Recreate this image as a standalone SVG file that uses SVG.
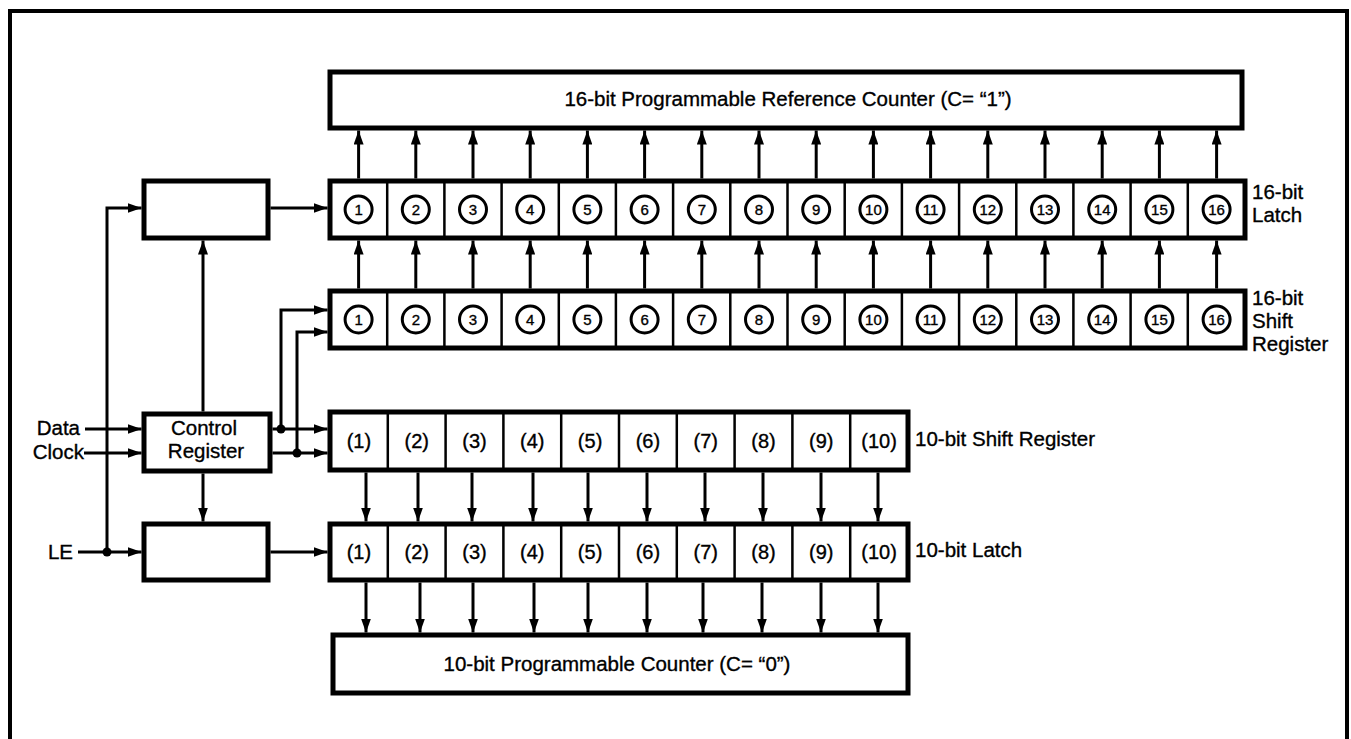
<svg xmlns="http://www.w3.org/2000/svg" width="1351" height="739" viewBox="0 0 1351 739">
<defs>
<style>
text{font-family:"Liberation Sans",Arial,sans-serif;fill:#000;stroke:#000;stroke-width:0.35}
.box{fill:#fff;stroke:#000;stroke-width:5}
.div{stroke:#000;stroke-width:2.5}
.ln{fill:none;stroke:#000;stroke-width:3}
.arr{fill:none;stroke:#000;stroke-width:3;marker-end:url(#ah)}
.cir{fill:#fff;stroke:#000;stroke-width:3}
.cn{font-size:15px;text-anchor:middle}
.pn{font-size:20px;text-anchor:middle}
.lbl{font-size:20.5px}
.mid{text-anchor:middle}
.end{text-anchor:end}
</style>
<marker id="ah" viewBox="0 0 14 10" refX="14" refY="5" markerWidth="14" markerHeight="10" markerUnits="userSpaceOnUse" orient="auto"><path d="M0,0 L14,5 L0,10 z" fill="#000"/></marker>
</defs>
<rect width="1351" height="739" fill="#fff"/>
<path d="M10,745 V11 H1347 V745" fill="none" stroke="#000" stroke-width="4"/>

<g id="connectors">
<path class="arr" d="M358.6,178.5 V130.5"/>
<path class="arr" d="M415.8,178.5 V130.5"/>
<path class="arr" d="M473,178.5 V130.5"/>
<path class="arr" d="M530.2,178.5 V130.5"/>
<path class="arr" d="M587.4,178.5 V130.5"/>
<path class="arr" d="M644.6,178.5 V130.5"/>
<path class="arr" d="M701.8,178.5 V130.5"/>
<path class="arr" d="M759,178.5 V130.5"/>
<path class="arr" d="M816.2,178.5 V130.5"/>
<path class="arr" d="M873.4,178.5 V130.5"/>
<path class="arr" d="M930.6,178.5 V130.5"/>
<path class="arr" d="M987.8,178.5 V130.5"/>
<path class="arr" d="M1045,178.5 V130.5"/>
<path class="arr" d="M1102.2,178.5 V130.5"/>
<path class="arr" d="M1159.4,178.5 V130.5"/>
<path class="arr" d="M1216.6,178.5 V130.5"/>
<path class="arr" d="M358.6,288.5 V240.5"/>
<path class="arr" d="M415.8,288.5 V240.5"/>
<path class="arr" d="M473,288.5 V240.5"/>
<path class="arr" d="M530.2,288.5 V240.5"/>
<path class="arr" d="M587.4,288.5 V240.5"/>
<path class="arr" d="M644.6,288.5 V240.5"/>
<path class="arr" d="M701.8,288.5 V240.5"/>
<path class="arr" d="M759,288.5 V240.5"/>
<path class="arr" d="M816.2,288.5 V240.5"/>
<path class="arr" d="M873.4,288.5 V240.5"/>
<path class="arr" d="M930.6,288.5 V240.5"/>
<path class="arr" d="M987.8,288.5 V240.5"/>
<path class="arr" d="M1045,288.5 V240.5"/>
<path class="arr" d="M1102.2,288.5 V240.5"/>
<path class="arr" d="M1159.4,288.5 V240.5"/>
<path class="arr" d="M1216.6,288.5 V240.5"/>
<path class="arr" d="M366,472.5 V521.5"/>
<path class="arr" d="M418,472.5 V521.5"/>
<path class="arr" d="M472,472.5 V521.5"/>
<path class="arr" d="M533,472.5 V521.5"/>
<path class="arr" d="M588,472.5 V521.5"/>
<path class="arr" d="M647,472.5 V521.5"/>
<path class="arr" d="M705,472.5 V521.5"/>
<path class="arr" d="M763,472.5 V521.5"/>
<path class="arr" d="M821,472.5 V521.5"/>
<path class="arr" d="M878,472.5 V521.5"/>
<path class="arr" d="M366,582.5 V632.5"/>
<path class="arr" d="M420,582.5 V632.5"/>
<path class="arr" d="M473,582.5 V632.5"/>
<path class="arr" d="M534,582.5 V632.5"/>
<path class="arr" d="M588,582.5 V632.5"/>
<path class="arr" d="M647,582.5 V632.5"/>
<path class="arr" d="M703,582.5 V632.5"/>
<path class="arr" d="M762,582.5 V632.5"/>
<path class="arr" d="M821,582.5 V632.5"/>
<path class="arr" d="M878,582.5 V632.5"/>
<path class="arr" d="M85,429 H141.5"/>
<path class="arr" d="M84,453 H141.5"/>
<path class="arr" d="M78,552 H141.5"/>
<path class="arr" d="M107,552 V208 H141.5"/>
<circle cx="107" cy="552" r="4.5" fill="#000"/>
<path class="arr" d="M270.5,208 H327.5"/>
<path class="arr" d="M270.5,552 H327.5"/>
<path class="arr" d="M203,411.5 V240.5"/>
<path class="arr" d="M203,473.5 V521.5"/>
<path class="arr" d="M272.5,429 H327.5"/>
<path class="arr" d="M272.5,453 H327.5"/>
<path class="arr" d="M281,429 V310 H327.5"/>
<path class="arr" d="M297,453 V332 H327.5"/>
<circle cx="281" cy="429" r="4.5" fill="#000"/>
<circle cx="297" cy="453" r="4.5" fill="#000"/>
</g>

<g id="ref-counter">
<rect class="box" x="330" y="72" width="912" height="56"/>
<text class="lbl mid" x="788" y="106">16-bit Programmable Reference Counter (C= “1”)</text>
</g>

<g id="latch16">
<rect class="box" x="330" y="181" width="915" height="57"/>
<path class="div" d="M387.2,181V238M444.4,181V238M501.6,181V238M558.8,181V238M615.9,181V238M673.1,181V238M730.3,181V238M787.5,181V238M844.7,181V238M901.9,181V238M959.1,181V238M1016.3,181V238M1073.4,181V238M1130.6,181V238M1187.8,181V238"/>
<circle class="cir" cx="358.6" cy="209.5" r="13.5"/><text class="cn" x="358.6" y="215">1</text>
<circle class="cir" cx="415.8" cy="209.5" r="13.5"/><text class="cn" x="415.8" y="215">2</text>
<circle class="cir" cx="473" cy="209.5" r="13.5"/><text class="cn" x="473" y="215">3</text>
<circle class="cir" cx="530.2" cy="209.5" r="13.5"/><text class="cn" x="530.2" y="215">4</text>
<circle class="cir" cx="587.4" cy="209.5" r="13.5"/><text class="cn" x="587.4" y="215">5</text>
<circle class="cir" cx="644.6" cy="209.5" r="13.5"/><text class="cn" x="644.6" y="215">6</text>
<circle class="cir" cx="701.8" cy="209.5" r="13.5"/><text class="cn" x="701.8" y="215">7</text>
<circle class="cir" cx="759" cy="209.5" r="13.5"/><text class="cn" x="759" y="215">8</text>
<circle class="cir" cx="816.2" cy="209.5" r="13.5"/><text class="cn" x="816.2" y="215">9</text>
<circle class="cir" cx="873.4" cy="209.5" r="13.5"/><text class="cn" x="873.4" y="215">10</text>
<circle class="cir" cx="930.6" cy="209.5" r="13.5"/><text class="cn" x="930.6" y="215">11</text>
<circle class="cir" cx="987.8" cy="209.5" r="13.5"/><text class="cn" x="987.8" y="215">12</text>
<circle class="cir" cx="1045" cy="209.5" r="13.5"/><text class="cn" x="1045" y="215">13</text>
<circle class="cir" cx="1102.2" cy="209.5" r="13.5"/><text class="cn" x="1102.2" y="215">14</text>
<circle class="cir" cx="1159.4" cy="209.5" r="13.5"/><text class="cn" x="1159.4" y="215">15</text>
<circle class="cir" cx="1216.6" cy="209.5" r="13.5"/><text class="cn" x="1216.6" y="215">16</text>
<text class="lbl" x="1252" y="199">16-bit</text>
<text class="lbl" x="1252" y="222">Latch</text>
</g>

<g id="shift16">
<rect class="box" x="330" y="291" width="915" height="57"/>
<path class="div" d="M387.2,291V348M444.4,291V348M501.6,291V348M558.8,291V348M615.9,291V348M673.1,291V348M730.3,291V348M787.5,291V348M844.7,291V348M901.9,291V348M959.1,291V348M1016.3,291V348M1073.4,291V348M1130.6,291V348M1187.8,291V348"/>
<circle class="cir" cx="358.6" cy="319.5" r="13.5"/><text class="cn" x="358.6" y="325">1</text>
<circle class="cir" cx="415.8" cy="319.5" r="13.5"/><text class="cn" x="415.8" y="325">2</text>
<circle class="cir" cx="473" cy="319.5" r="13.5"/><text class="cn" x="473" y="325">3</text>
<circle class="cir" cx="530.2" cy="319.5" r="13.5"/><text class="cn" x="530.2" y="325">4</text>
<circle class="cir" cx="587.4" cy="319.5" r="13.5"/><text class="cn" x="587.4" y="325">5</text>
<circle class="cir" cx="644.6" cy="319.5" r="13.5"/><text class="cn" x="644.6" y="325">6</text>
<circle class="cir" cx="701.8" cy="319.5" r="13.5"/><text class="cn" x="701.8" y="325">7</text>
<circle class="cir" cx="759" cy="319.5" r="13.5"/><text class="cn" x="759" y="325">8</text>
<circle class="cir" cx="816.2" cy="319.5" r="13.5"/><text class="cn" x="816.2" y="325">9</text>
<circle class="cir" cx="873.4" cy="319.5" r="13.5"/><text class="cn" x="873.4" y="325">10</text>
<circle class="cir" cx="930.6" cy="319.5" r="13.5"/><text class="cn" x="930.6" y="325">11</text>
<circle class="cir" cx="987.8" cy="319.5" r="13.5"/><text class="cn" x="987.8" y="325">12</text>
<circle class="cir" cx="1045" cy="319.5" r="13.5"/><text class="cn" x="1045" y="325">13</text>
<circle class="cir" cx="1102.2" cy="319.5" r="13.5"/><text class="cn" x="1102.2" y="325">14</text>
<circle class="cir" cx="1159.4" cy="319.5" r="13.5"/><text class="cn" x="1159.4" y="325">15</text>
<circle class="cir" cx="1216.6" cy="319.5" r="13.5"/><text class="cn" x="1216.6" y="325">16</text>
<text class="lbl" x="1252" y="305">16-bit</text>
<text class="lbl" x="1252" y="328">Shift</text>
<text class="lbl" x="1252" y="351">Register</text>
</g>

<g id="shift10">
<rect class="box" x="330" y="412" width="578" height="58"/>
<path class="div" d="M387.8,412V470M445.6,412V470M503.4,412V470M561.2,412V470M619,412V470M676.8,412V470M734.6,412V470M792.4,412V470M850.2,412V470"/>
<text class="pn" x="358.9" y="448">(1)</text>
<text class="pn" x="416.7" y="448">(2)</text>
<text class="pn" x="474.5" y="448">(3)</text>
<text class="pn" x="532.3" y="448">(4)</text>
<text class="pn" x="590.1" y="448">(5)</text>
<text class="pn" x="647.9" y="448">(6)</text>
<text class="pn" x="705.7" y="448">(7)</text>
<text class="pn" x="763.5" y="448">(8)</text>
<text class="pn" x="821.3" y="448">(9)</text>
<text class="pn" x="879.1" y="448">(10)</text>
<text class="lbl" x="915" y="446">10-bit Shift Register</text>
</g>

<g id="latch10">
<rect class="box" x="330" y="524" width="578" height="56"/>
<path class="div" d="M387.8,524V580M445.6,524V580M503.4,524V580M561.2,524V580M619,524V580M676.8,524V580M734.6,524V580M792.4,524V580M850.2,524V580"/>
<text class="pn" x="358.9" y="559">(1)</text>
<text class="pn" x="416.7" y="559">(2)</text>
<text class="pn" x="474.5" y="559">(3)</text>
<text class="pn" x="532.3" y="559">(4)</text>
<text class="pn" x="590.1" y="559">(5)</text>
<text class="pn" x="647.9" y="559">(6)</text>
<text class="pn" x="705.7" y="559">(7)</text>
<text class="pn" x="763.5" y="559">(8)</text>
<text class="pn" x="821.3" y="559">(9)</text>
<text class="pn" x="879.1" y="559">(10)</text>
<text class="lbl" x="915" y="557">10-bit Latch</text>
</g>

<g id="counter10">
<rect class="box" x="333" y="635" width="575" height="58"/>
<text class="lbl mid" x="617" y="671">10-bit Programmable Counter (C= “0”)</text>
</g>

<g id="top-box">
<rect class="box" x="144" y="181" width="124" height="57"/>
</g>

<g id="control-register">
<rect class="box" x="144" y="414" width="126" height="57"/>
<text class="lbl mid" x="204" y="435">Control</text>
<text class="lbl mid" x="206" y="458">Register</text>
</g>

<g id="le-box">
<rect class="box" x="144" y="524" width="124" height="56"/>
</g>

<g id="inputs">
<text class="lbl end" x="80" y="435">Data</text>
<text class="lbl end" x="84" y="459">Clock</text>
<text class="lbl end" x="73" y="559">LE</text>
</g>
</svg>
